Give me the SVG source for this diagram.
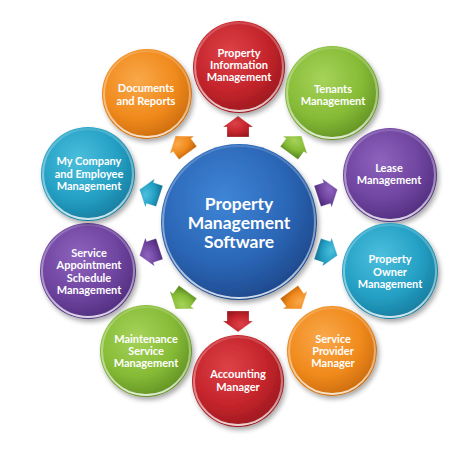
<svg xmlns="http://www.w3.org/2000/svg" width="474" height="453" viewBox="0 0 474 453">
<defs>
<filter id="sh" x="-20%" y="-20%" width="150%" height="150%">
<feGaussianBlur in="SourceAlpha" stdDeviation="2.5"/>
<feOffset dx="1.5" dy="3" result="b"/>
<feComponentTransfer><feFuncA type="linear" slope="0.35"/></feComponentTransfer>
<feMerge><feMergeNode/><feMergeNode in="SourceGraphic"/></feMerge>
</filter>
<radialGradient id="gRed" cx="40%" cy="35%" r="70%"><stop offset="0" stop-color="#dd4248"/><stop offset="0.6" stop-color="#c4242b"/><stop offset="1" stop-color="#97181e"/></radialGradient>
<radialGradient id="gGreen" cx="40%" cy="35%" r="70%"><stop offset="0" stop-color="#a6d35a"/><stop offset="0.6" stop-color="#86bb36"/><stop offset="1" stop-color="#5e8e22"/></radialGradient>
<radialGradient id="gPurple" cx="40%" cy="35%" r="70%"><stop offset="0" stop-color="#8e63bd"/><stop offset="0.6" stop-color="#6e449f"/><stop offset="1" stop-color="#4e2c7b"/></radialGradient>
<radialGradient id="gTeal" cx="40%" cy="35%" r="70%"><stop offset="0" stop-color="#4cbfdd"/><stop offset="0.6" stop-color="#24a0c4"/><stop offset="1" stop-color="#16799b"/></radialGradient>
<radialGradient id="gOrange" cx="40%" cy="35%" r="70%"><stop offset="0" stop-color="#f9a84a"/><stop offset="0.6" stop-color="#f08a1c"/><stop offset="1" stop-color="#c8690c"/></radialGradient>
<radialGradient id="gBlue" cx="40%" cy="35%" r="70%"><stop offset="0" stop-color="#3f85d6"/><stop offset="0.6" stop-color="#2b66b6"/><stop offset="1" stop-color="#1c4688"/></radialGradient>
<linearGradient id="rim" x1="0" y1="0" x2="0" y2="1"><stop offset="0" stop-color="#fff" stop-opacity="0.15"/><stop offset="0.7" stop-color="#fff" stop-opacity="0.5"/><stop offset="1" stop-color="#fff" stop-opacity="0.8"/></linearGradient>
<path id="arr" d="M0,-11 L15,0 L11,0 L11,10 L-11,10 L-11,0 L-15,0 Z"/>
</defs>
<style>
.rim{fill:none;stroke:url(#rim);stroke-width:2}
.t{font-family:Lato,"Liberation Sans",sans-serif;font-weight:700;font-size:11px;fill:#fff;text-anchor:middle}
.tc{font-family:Lato,"Liberation Sans",sans-serif;font-weight:700;font-size:17.5px;fill:#fff;text-anchor:middle}
.a{stroke:#fff;stroke-opacity:0.3;stroke-width:0.8}
</style>
<rect width="474" height="453" fill="#fff"/>
<g id="connectors">
<use href="#arr" fill="url(#gRed)" class="a" transform="translate(238,127) rotate(0)"/>
<use href="#arr" fill="url(#gGreen)" class="a" transform="translate(295,145) rotate(36)"/>
<use href="#arr" fill="url(#gPurple)" class="a" transform="translate(327,193) rotate(72)"/>
<use href="#arr" fill="url(#gTeal)" class="a" transform="translate(327,252) rotate(108)"/>
<use href="#arr" fill="url(#gOrange)" class="a" transform="translate(295,300) rotate(144)"/>
<use href="#arr" fill="url(#gRed)" class="a" transform="translate(238,321) rotate(180)"/>
<use href="#arr" fill="url(#gGreen)" class="a" transform="translate(182,300) rotate(216)"/>
<use href="#arr" fill="url(#gPurple)" class="a" transform="translate(150,252) rotate(252)"/>
<use href="#arr" fill="url(#gTeal)" class="a" transform="translate(150,193) rotate(288)"/>
<use href="#arr" fill="url(#gOrange)" class="a" transform="translate(182,145) rotate(324)"/>
</g>
<g id="center">
<circle cx="239" cy="222" r="78" fill="url(#gBlue)" filter="url(#sh)"/>
<circle cx="239" cy="222" r="76" class="rim"/>
<text class="tc" x="239" y="210">Property</text>
<text class="tc" x="239" y="229">Management</text>
<text class="tc" x="239" y="248">Software</text>
</g>
<g id="n-property-info">
<circle cx="239" cy="67" r="46" fill="url(#gRed)" filter="url(#sh)"/>
<circle cx="239" cy="67" r="44" class="rim"/>
<text class="t" x="239" y="57">Property</text>
<text class="t" x="239" y="69">Information</text>
<text class="t" x="239" y="81">Management</text>
</g>
<g id="n-tenants">
<circle cx="332" cy="93" r="47" fill="url(#gGreen)" filter="url(#sh)"/>
<circle cx="332" cy="93" r="45" class="rim"/>
<text class="t" x="333" y="93">Tenants</text>
<text class="t" x="333" y="105">Management</text>
</g>
<g id="n-lease">
<circle cx="390" cy="175" r="47" fill="url(#gPurple)" filter="url(#sh)"/>
<circle cx="390" cy="175" r="45" class="rim"/>
<text class="t" x="389" y="172">Lease</text>
<text class="t" x="389" y="184">Management</text>
</g>
<g id="n-owner">
<circle cx="390" cy="271" r="48" fill="url(#gTeal)" filter="url(#sh)"/>
<circle cx="390" cy="271" r="46" class="rim"/>
<text class="t" x="390" y="263">Property</text>
<text class="t" x="390" y="276">Owner</text>
<text class="t" x="390" y="288">Management</text>
</g>
<g id="n-provider">
<circle cx="332" cy="351" r="45" fill="url(#gOrange)" filter="url(#sh)"/>
<circle cx="332" cy="351" r="43" class="rim"/>
<text class="t" x="333" y="343">Service</text>
<text class="t" x="333" y="355">Provider</text>
<text class="t" x="333" y="367">Manager</text>
</g>
<g id="n-accounting">
<circle cx="238" cy="381" r="46" fill="url(#gRed)" filter="url(#sh)"/>
<circle cx="238" cy="381" r="44" class="rim"/>
<text class="t" x="238" y="378">Accounting</text>
<text class="t" x="238" y="391">Manager</text>
</g>
<g id="n-maintenance">
<circle cx="146" cy="351" r="46" fill="url(#gGreen)" filter="url(#sh)"/>
<circle cx="146" cy="351" r="44" class="rim"/>
<text class="t" x="146" y="343">Maintenance</text>
<text class="t" x="146" y="355">Service</text>
<text class="t" x="146" y="367">Management</text>
</g>
<g id="n-appointment">
<circle cx="88" cy="271" r="48" fill="url(#gPurple)" filter="url(#sh)"/>
<circle cx="88" cy="271" r="46" class="rim"/>
<text class="t" x="89" y="257">Service</text>
<text class="t" x="89" y="269">Appointment</text>
<text class="t" x="89" y="282">Schedule</text>
<text class="t" x="89" y="294">Management</text>
</g>
<g id="n-company">
<circle cx="88" cy="174" r="47" fill="url(#gTeal)" filter="url(#sh)"/>
<circle cx="88" cy="174" r="45" class="rim"/>
<text class="t" x="89" y="165">My Company</text>
<text class="t" x="89" y="177.5">and Employee</text>
<text class="t" x="89" y="190">Management</text>
</g>
<g id="n-documents">
<circle cx="147" cy="94" r="45" fill="url(#gOrange)" filter="url(#sh)"/>
<circle cx="147" cy="94" r="43" class="rim"/>
<text class="t" x="146" y="92">Documents</text>
<text class="t" x="146" y="105">and Reports</text>
</g>
</svg>
